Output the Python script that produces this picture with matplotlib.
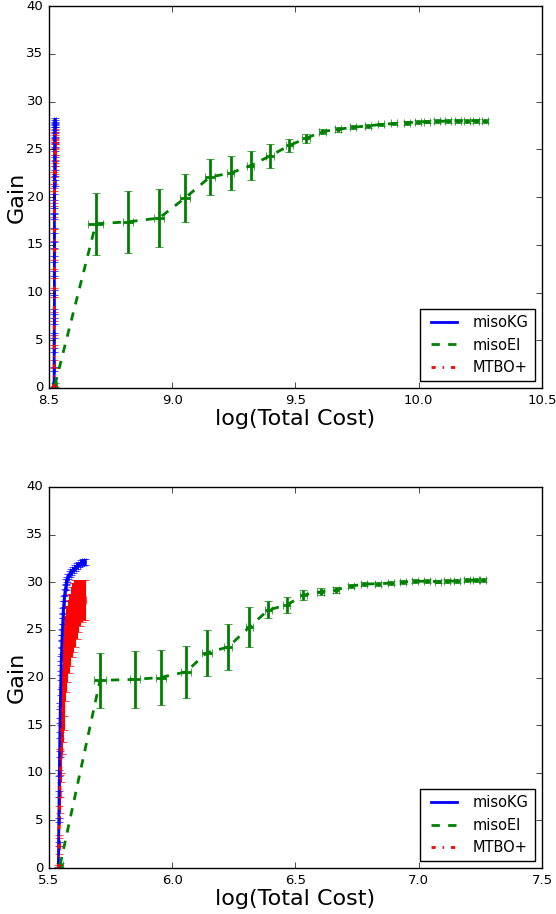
import matplotlib
matplotlib.use("Agg")
import matplotlib.pyplot as plt
from matplotlib.lines import Line2D

# ---------------- top panel ----------------
kg1_x = [8.521, 8.521, 8.521, 8.521, 8.522, 8.522, 8.522, 8.522, 8.522, 8.522,
         8.522, 8.522, 8.522, 8.522, 8.523, 8.523, 8.523, 8.523, 8.523, 8.523,
         8.523, 8.523, 8.523, 8.523, 8.523, 8.523]
kg1_y = [0.0, 2.0, 4.0, 5.5, 7.0, 8.0, 10.0, 12.0, 13.5, 15.0,
         16.5, 18.0, 18.5, 20.0, 21.5, 22.5, 23.5, 24.5, 25.5, 26.0,
         26.5, 27.0, 27.3, 27.6, 27.8, 28.0]
kg1_e = [0.1, 0.2, 0.2, 0.3, 0.3, 0.3, 0.3, 0.3, 0.3, 0.3,
         0.3, 0.3, 0.3, 0.3, 0.3, 0.3, 0.3, 0.3, 0.3, 0.3,
         0.3, 0.3, 0.3, 0.3, 0.3, 0.3]

ei1_x = [8.524, 8.690, 8.822, 8.947, 9.052, 9.153, 9.237, 9.318, 9.397, 9.475,
         9.543, 9.609, 9.674, 9.735, 9.793, 9.847, 9.901, 9.951, 9.998, 10.032,
         10.073, 10.117, 10.160, 10.194, 10.232, 10.269]
ei1_y = [0.3, 17.2, 17.4, 17.8, 19.9, 22.1, 22.5, 23.3, 24.3, 25.4,
         26.15, 26.85, 27.1, 27.3, 27.45, 27.6, 27.7, 27.78, 27.85, 27.9,
         27.92, 27.95, 27.97, 27.98, 28.0, 28.0]
ei1_e = [0.2, 3.25, 3.25, 3.0, 2.5, 1.9, 1.75, 1.55, 1.3, 0.65,
         0.45, 0.3, 0.25, 0.2, 0.2, 0.2, 0.2, 0.2, 0.2, 0.2,
         0.2, 0.2, 0.2, 0.2, 0.2, 0.2]
ei1_xe = [0.01, 0.03, 0.02, 0.02, 0.02, 0.02, 0.015, 0.015, 0.015, 0.015,
          0.015, 0.015, 0.012, 0.012, 0.012, 0.012, 0.012, 0.012, 0.012, 0.012,
          0.012, 0.012, 0.012, 0.012, 0.012, 0.012]

mt1_x = [8.521, 8.521, 8.521, 8.521, 8.522, 8.522, 8.522, 8.522, 8.522, 8.522,
         8.522, 8.522, 8.523, 8.523, 8.523, 8.523, 8.523, 8.523, 8.523, 8.523]
mt1_y = [0.0, 2.5, 5.0, 7.5, 10.0, 12.0, 14.0, 16.0, 18.5, 20.0,
         21.5, 22.0, 23.0, 23.8, 24.5, 25.0, 25.5, 26.0, 26.3, 26.6]
mt1_e = [0.2, 0.4, 0.5, 0.5, 0.5, 0.5, 0.6, 0.6, 0.6, 0.6,
         0.6, 0.6, 0.6, 0.6, 0.6, 0.6, 0.5, 0.5, 0.5, 0.5]

# ---------------- bottom panel ----------------
kg2_x = [5.538, 5.539, 5.540, 5.541, 5.542, 5.543, 5.544, 5.545, 5.546, 5.547,
         5.548, 5.549, 5.550, 5.551, 5.552, 5.553, 5.554, 5.555, 5.556, 5.557,
         5.558, 5.560, 5.562, 5.565, 5.568, 5.571, 5.575, 5.578, 5.584, 5.591,
         5.599, 5.607, 5.615, 5.623, 5.630, 5.638, 5.646]
kg2_y = [0.0, 2.5, 5.0, 7.8, 10.0, 12.0, 14.0, 15.5, 17.0, 18.5,
         20.0, 21.0, 22.0, 22.8, 23.5, 24.2, 24.8, 25.3, 25.9, 26.5,
         27.0, 27.7, 28.3, 29.0, 29.5, 30.0, 30.3, 30.6, 30.9, 31.1,
         31.3, 31.5, 31.7, 31.85, 32.0, 32.1, 32.15]
kg2_e = [0.1, 0.2, 0.2, 0.3, 0.3, 0.3, 0.3, 0.3, 0.3, 0.3,
         0.3, 0.3, 0.3, 0.3, 0.3, 0.3, 0.3, 0.3, 0.3, 0.3,
         0.3, 0.3, 0.3, 0.3, 0.3, 0.3, 0.3, 0.3, 0.3, 0.3,
         0.3, 0.3, 0.3, 0.3, 0.3, 0.3, 0.3]

ei2_x = [5.545, 5.707, 5.849, 5.953, 6.056, 6.140, 6.227, 6.313, 6.390, 6.464,
         6.532, 6.602, 6.664, 6.725, 6.778, 6.836, 6.887, 6.937, 6.985, 7.032,
         7.077, 7.113, 7.154, 7.195, 7.232, 7.262]
ei2_y = [0.3, 19.7, 19.8, 20.0, 20.6, 22.6, 23.2, 25.3, 27.1, 27.6,
         28.65, 29.0, 29.2, 29.6, 29.8, 29.85, 29.9, 30.0, 30.1, 30.1,
         30.07, 30.1, 30.13, 30.2, 30.2, 30.2]
ei2_e = [0.2, 2.9, 2.95, 2.9, 2.75, 2.4, 2.4, 2.05, 0.9, 0.8,
         0.5, 0.35, 0.35, 0.25, 0.2, 0.2, 0.2, 0.2, 0.2, 0.2,
         0.2, 0.2, 0.2, 0.2, 0.2, 0.2]
ei2_xe = [0.01, 0.025, 0.02, 0.02, 0.02, 0.02, 0.015, 0.015, 0.015, 0.015,
          0.015, 0.015, 0.012, 0.012, 0.012, 0.012, 0.012, 0.012, 0.012, 0.012,
          0.012, 0.012, 0.012, 0.012, 0.012, 0.012]

mt2_x = [5.538, 5.540, 5.542, 5.544, 5.546, 5.548, 5.550, 5.553, 5.556, 5.559,
         5.562, 5.566, 5.570, 5.575, 5.580, 5.586, 5.592, 5.598, 5.605, 5.612,
         5.619, 5.626, 5.633, 5.640, 5.646]
mt2_y = [0.0, 2.3, 5.0, 7.8, 10.0, 12.0, 13.5, 15.5, 17.0, 18.5,
         20.0, 21.5, 22.5, 23.5, 24.3, 25.0, 25.8, 26.3, 26.7, 27.1,
         27.5, 27.8, 28.0, 28.1, 28.1]
mt2_e = [0.3, 0.8, 1.5, 2.0, 2.5, 3.0, 3.5, 3.5, 3.8, 4.0,
         4.0, 4.0, 4.0, 4.0, 3.8, 3.8, 3.7, 3.6, 3.5, 3.1,
         2.7, 2.4, 2.2, 2.1, 2.1]

panels = [
    ((kg1_x, kg1_y, kg1_e), (ei1_x, ei1_y, ei1_e, ei1_xe), (mt1_x, mt1_y, mt1_e),
     (8.5, 10.5), [8.5, 9.0, 9.5, 10.0, 10.5]),
    ((kg2_x, kg2_y, kg2_e), (ei2_x, ei2_y, ei2_e, ei2_xe), (mt2_x, mt2_y, mt2_e),
     (5.5, 7.5), [5.5, 6.0, 6.5, 7.0, 7.5]),
]

plt.style.use("classic")
fig = plt.figure(figsize=(5.56, 9.14), dpi=100, facecolor="white")
rects = [[0.0881, 0.5755, 0.8867, 0.4179], [0.0881, 0.0503, 0.8867, 0.4169]]

for rect, (kg, ei, mt, xlim, xticks) in zip(rects, panels):
    ax = fig.add_axes(rect)
    ax.errorbar(kg[0], kg[1], yerr=kg[2], xerr=0.004, color="b", ls="-", lw=2,
                elinewidth=1.5, capsize=3)
    ax.errorbar(ei[0], ei[1], yerr=ei[2], xerr=ei[3], color="g", ls="--", lw=2,
                elinewidth=2, capsize=3)
    ax.errorbar(mt[0], mt[1], yerr=mt[2], xerr=0.004, color="r", ls="-.", lw=2,
                elinewidth=1.5, capsize=3)
    ax.set_xlim(*xlim)
    ax.set_ylim(0, 40)
    ax.set_xticks(xticks)
    ax.set_xticklabels([f"{t:.1f}" for t in xticks])
    ax.set_yticks(range(0, 41, 5))
    ax.tick_params(labelsize=9.5)
    ax.set_xlabel("log(Total Cost)", fontsize=16, labelpad=2)
    ax.set_ylabel("Gain", fontsize=16, labelpad=0)
    handles = [Line2D([], [], color="b", ls="-", lw=2),
               Line2D([], [], color="g", ls="--", lw=2),
               Line2D([], [], color="r", ls="-.", lw=2)]
    leg = ax.legend(handles, ["misoKG", "misoEI", "MTBO+"], loc="lower right",
                    fontsize=10.5, handlelength=2.4, borderaxespad=0.5)
    leg.get_frame().set_linewidth(1)

fig.savefig("out.png", dpi=100, facecolor="white")
